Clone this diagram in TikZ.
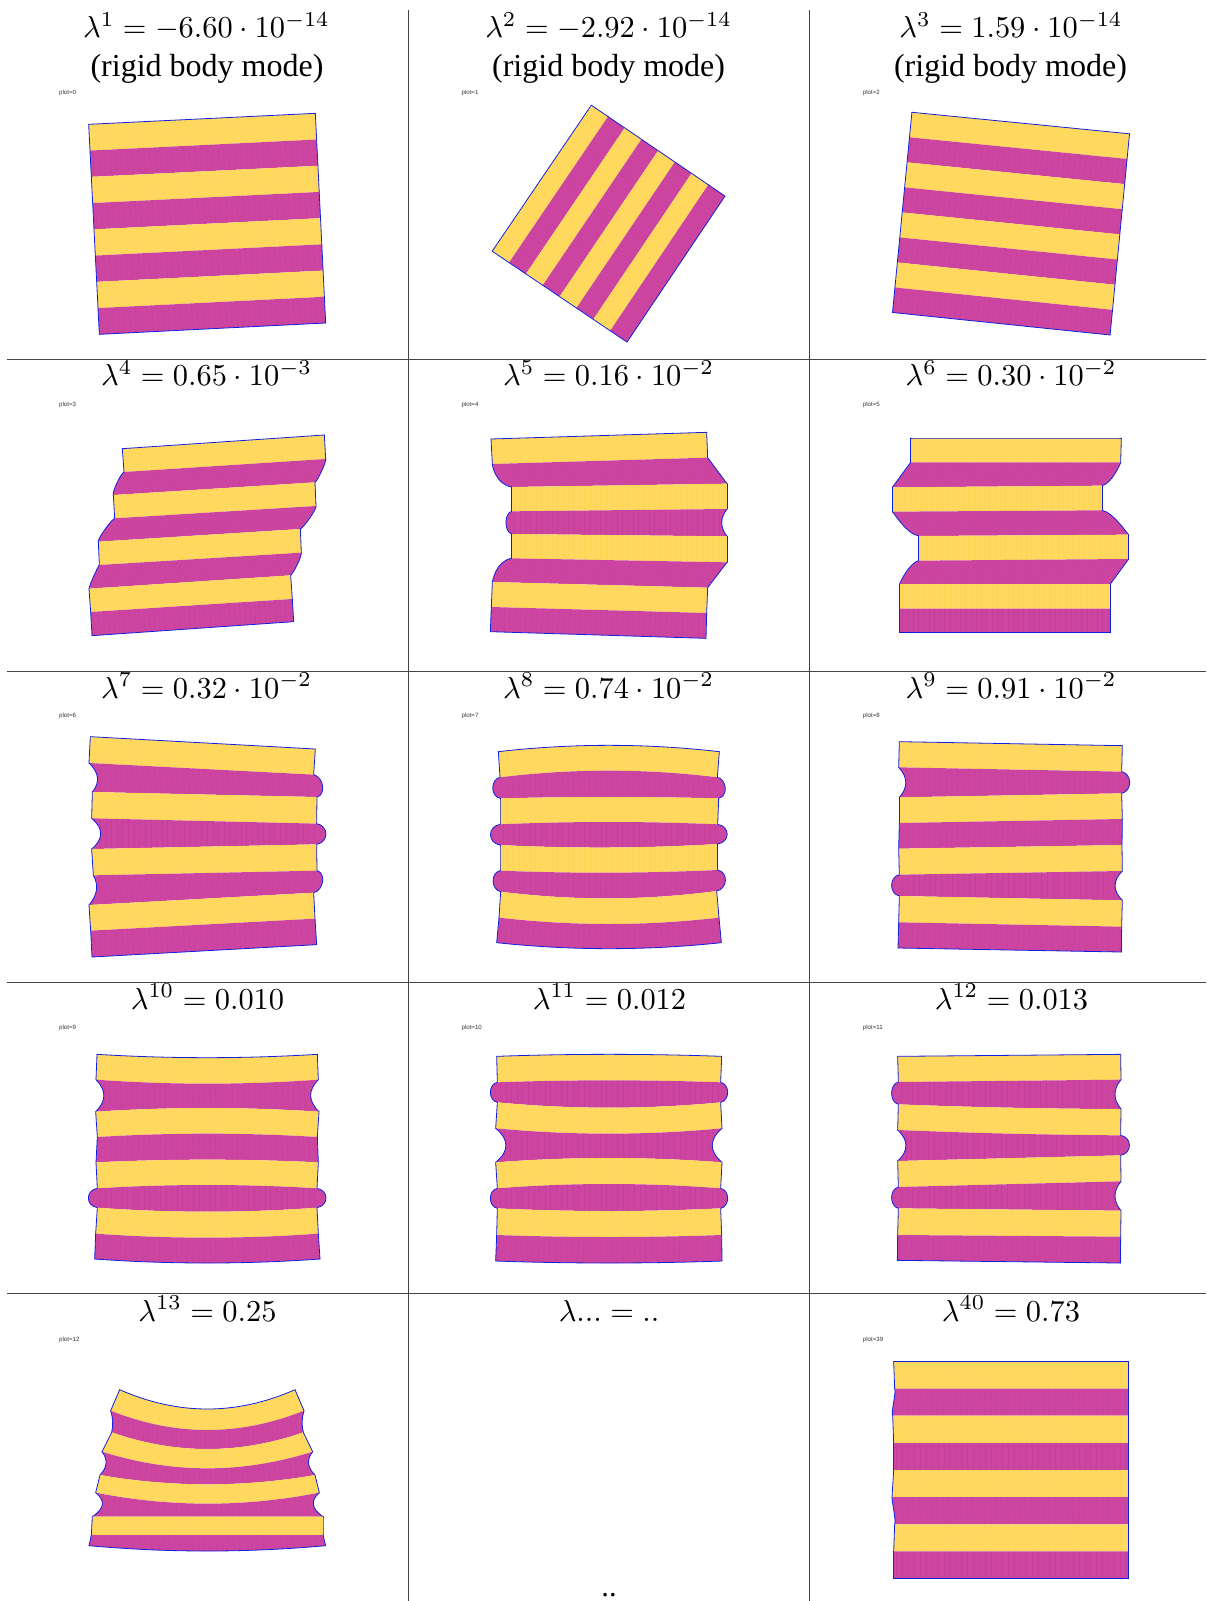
\documentclass[tikz,border=0pt]{standalone}
\usepackage{fontspec}
\setmainfont{Liberation Serif}
\newfontfamily\plotfont{Liberation Sans}
\definecolor{stripeY}{HTML}{FFD95F}
\definecolor{stripeP}{HTML}{CC45A0}
\definecolor{meshY}{HTML}{FFC81E}
\definecolor{meshP}{HTML}{B8108A}
\definecolor{edgeB}{HTML}{1020E0}
\definecolor{gridG}{HTML}{444444}
\tikzset{
  titletext/.style={anchor=base,scale=2.28,inner sep=0pt,outer sep=0pt},
  subtext/.style={anchor=base,scale=2.4,inner sep=0pt,outer sep=0pt},
  plottext/.style={anchor=base west,inner sep=0pt,outer sep=0pt,text=black!80,font=\plotfont\fontsize{4.6}{5}\selectfont},
  gridline/.style={draw=gridG,line width=.75pt},
  outline/.style={draw=edgeB,line width=.6pt,line join=round,line cap=round},
  meshline/.style={line width=.2pt,opacity=.16},
}
\newcommand{\meshsteps}{0.0125,0.0375,...,1}
\newcommand{\panelrows}[3]{%
\begin{scope}[shift={(#1,#2)},x=.25pt,y=-.25pt]
\foreach \xa/\ya/\xb/\yb/\sg/\pa/\qa/\pb/\qb [count=\idx,
  remember=\xa as \Xa (initially 0),remember=\ya as \Ya (initially 0),
  remember=\xb as \Xb (initially 0),remember=\yb as \Yb (initially 0),
  remember=\sg as \Sg (initially 0),
  remember=\pa as \Pa (initially 0),remember=\qa as \Qa (initially 0),
  remember=\pb as \Pb (initially 0),remember=\qb as \Qb (initially 0)] in {#3}{%
  \ifnum\idx>1
    \pgfmathsetmacro\fl{(\Pa>0 && \Qa>0) ? .33 : .1}%
    \pgfmathsetmacro\fr{(\Pb<0 && \Qb<0) ? .33 : .1}%
    \pgfmathsetmacro\tax{\Xa+(\Xb-\Xa)/3}\pgfmathsetmacro\tay{\Ya+(\Yb-\Ya)/3+1.333*\Sg}%
    \pgfmathsetmacro\tbx{\Xa+2*(\Xb-\Xa)/3}\pgfmathsetmacro\tby{\Ya+2*(\Yb-\Ya)/3+1.333*\Sg}%
    \pgfmathsetmacro\bax{\xa+(\xb-\xa)/3}\pgfmathsetmacro\bay{\ya+(\yb-\ya)/3+1.333*\sg}%
    \pgfmathsetmacro\bbx{\xa+2*(\xb-\xa)/3}\pgfmathsetmacro\bby{\ya+2*(\yb-\ya)/3+1.333*\sg}%
    \pgfmathsetmacro\lax{\Xa+\fl*(\xa-\Xa)+\Pa}\pgfmathsetmacro\lay{\Ya+\fl*(\ya-\Ya)}%
    \pgfmathsetmacro\lbx{\xa-\fl*(\xa-\Xa)+\Qa}\pgfmathsetmacro\lby{\ya-\fl*(\ya-\Ya)}%
    \pgfmathsetmacro\rax{\Xb+\fr*(\xb-\Xb)+\Pb}\pgfmathsetmacro\ray{\Yb+\fr*(\yb-\Yb)}%
    \pgfmathsetmacro\rbx{\xb-\fr*(\xb-\Xb)+\Qb}\pgfmathsetmacro\rby{\yb-\fr*(\yb-\Yb)}%
    \def\stripepath{(\Xa,\Ya) .. controls (\tax,\tay) and (\tbx,\tby) .. (\Xb,\Yb)
      .. controls (\rax,\ray) and (\rbx,\rby) .. (\xb,\yb)
      .. controls (\bbx,\bby) and (\bax,\bay) .. (\xa,\ya)
      .. controls (\lbx,\lby) and (\lax,\lay) .. cycle}%
    \ifodd\idx\def\fillc{stripeP}\def\meshc{meshP}\else\def\fillc{stripeY}\def\meshc{meshY}\fi
    \fill[\fillc] \stripepath;
    \begin{scope}
      \clip \stripepath;
      \foreach \tt in \meshsteps {%
        \pgfmathsetmacro\ux{\Xa+\tt*(\Xb-\Xa)}\pgfmathsetmacro\uy{\Ya+\tt*(\Yb-\Ya)}%
        \pgfmathsetmacro\vx{\xa+\tt*(\xb-\xa)}\pgfmathsetmacro\vy{\ya+\tt*(\yb-\ya)}%
        \draw[meshline,draw=\meshc] ({\ux-(\vx-\ux)},{\uy-(\vy-\uy)}) -- ({\vx+(\vx-\ux)},{\vy+(\vy-\uy)});
      }
    \end{scope}
    \draw[outline] (\Xa,\Ya) .. controls (\lax,\lay) and (\lbx,\lby) .. (\xa,\ya);
    \draw[outline] (\Xb,\Yb) .. controls (\rax,\ray) and (\rbx,\rby) .. (\xb,\yb);
    \ifnum\idx=2 \draw[outline] (\Xa,\Ya) .. controls (\tax,\tay) and (\tbx,\tby) .. (\Xb,\Yb);\fi
    \ifnum\idx=9 \draw[outline] (\xa,\ya) .. controls (\bax,\bay) and (\bbx,\bby) .. (\xb,\yb);\fi
  \fi
}
\end{scope}}
% rigid panel: corners of boundary 0 (a,b) and boundary 8 (c,d), in 3x pixels
\newcommand{\rigidpanel}[8]{%
  \gdef\rowlist{}%
  \foreach \k in {0,...,8}{%
    \pgfmathsetmacro\ra{#1+\k/8*(#5-#1)}\pgfmathsetmacro\rb{#2+\k/8*(#6-#2)}%
    \pgfmathsetmacro\rc{#3+\k/8*(#7-#3)}\pgfmathsetmacro\rd{#4+\k/8*(#8-#4)}%
    \ifnum\k=0 \xdef\rowlist{\ra/\rb/\rc/\rd/0/0/0/0/0}\else
    \xdef\rowlist{\rowlist,\ra/\rb/\rc/\rd/0/0/0/0/0}\fi}%
  \edef\tmpcall{\noexpand\panelrows{0}{0}{\rowlist}}\tmpcall}
\newcommand{\ttl}[4]{\node[titletext] (#1) at (#2,#3) {$#4$};}
\newcommand{\plt}[4]{\node[plottext] (#1) at (#2,#3) {#4};}
\begin{document}
\begin{tikzpicture}[x=.75pt,y=-.75pt]
\useasboundingbox (0,0) rectangle (1206,1601);
% grid
\draw[gridline] (408,10) -- (408,1601);
\draw[gridline] (809.6,10) -- (809.6,1601);
\foreach \yy in {359.4,671,982.4,1293.8} \draw[gridline] (7,\yy) -- (1206,\yy);
% titles
\ttl{t1}{206.5}{38}{\lambda^{1} = -6.60\cdot 10^{-14}}
\ttl{t2}{608.6}{38}{\lambda^{2} = -2.92\cdot 10^{-14}}
\ttl{t3}{1011}{38}{\lambda^{3} = 1.59\cdot 10^{-14}}
\node[subtext] (s1) at (207,77) {(rigid body mode)};
\node[subtext] (s2) at (608.6,77) {(rigid body mode)};
\node[subtext] (s3) at (1010.5,77) {(rigid body mode)};
\ttl{t4}{206.5}{385.5}{\lambda^{4} = 0.65\cdot 10^{-3}}
\ttl{t5}{608.6}{385.5}{\lambda^{5} = 0.16\cdot 10^{-2}}
\ttl{t6}{1011}{385.5}{\lambda^{6} = 0.30\cdot 10^{-2}}
\ttl{t7}{206.5}{698}{\lambda^{7} = 0.32\cdot 10^{-2}}
\ttl{t8}{608.6}{698}{\lambda^{8} = 0.74\cdot 10^{-2}}
\ttl{t9}{1011}{698}{\lambda^{9} = 0.91\cdot 10^{-2}}
\ttl{t10}{207.5}{1009}{\lambda^{10} = 0.010}
\ttl{t11}{609.5}{1009}{\lambda^{11} = 0.012}
\ttl{t12}{1011.5}{1009}{\lambda^{12} = 0.013}
\ttl{t13}{207.5}{1321}{\lambda^{13} = 0.25}
\ttl{t14}{609}{1321}{\lambda... = ..}
\ttl{t15}{1011}{1321}{\lambda^{40} = 0.73}
\node[titletext] (dots) at (609,1596) {..};
% plot labels
\plt{p0}{59.2}{94.5}{plot=0}
\plt{p1}{461.6}{94.5}{plot=1}
\plt{p2}{862.9}{94.5}{plot=2}
\plt{p3}{59.2}{406}{plot=3}
\plt{p4}{461.6}{406}{plot=4}
\plt{p5}{862.9}{406}{plot=5}
\plt{p6}{59.2}{717.5}{plot=6}
\plt{p7}{461.6}{717.5}{plot=7}
\plt{p8}{862.9}{717.5}{plot=8}
\plt{p9}{59.2}{1029}{plot=9}
\plt{p10}{461.6}{1029}{plot=10}
\plt{p11}{862.9}{1029}{plot=11}
\plt{p12}{59.2}{1341}{plot=12}
\plt{p39}{862.9}{1341}{plot=39}
% rigid panels
\rigidpanel{266}{373}{946}{340}{298}{1003}{977}{969}
\rigidpanel{1476.6}{753.6}{1773.9}{315.6}{1881}{1026.3}{2175}{588.3}
\rigidpanel{2735.7}{336.9}{3388.5}{401.4}{2677.5}{937.5}{3330.3}{1005}
% panel 4
\panelrows{60}{400}{187/146/793/105/0/0/0/0/0,
192/216/797/177/0/-8/-8/6/6,
160/285/765/247/0/0/0/0/0,
164/355/768/318/0/-8/-8/8/8,
115/425/721/387/0/0/0/0/0,
118/495/724/458/0/-3/-3/6/6,
87/566/692/526/0/0/0/0/0,
92/636/697/597/0/0/0/0/0,
96/707/701/665/0/0/0/0/0}
% panel 5
\panelrows{470}{420}{63/57/710/37/0/0/0/0/0,
67/132/713/113/0/-6/-40/0/0,
125/201/771/191/0/0/0/0/0,
125/274/771/267/0/-23/-23/-21/-21,
125/342/771/349/0/0/0/0/0,
125/415/771/427/0/-40/-4/0/0,
67/486/713/503/0/0/0/0/0,
64/561/710/579/0/0/0/0/0,
61/635/708/655/0/0/0/0/0}
% panel 6
\panelrows{870}{420}{122/54/754/54/0/0/0/0/0,
122/127/752/127/0/0/0/4/22,
67/202/697/197/0/0/0/0/0,
67/275/697/271/0/0/-30/25/0,
146/348/776/344/0/0/0/0/0,
146/422/776/417/0/-22/-4/0/0,
89/492/721/492/0/0/0/0/0,
89/566/721/566/0/0/0/0/0,
89/638/721/638/0/0/0/0/0}
% panel 7
\panelrows{70}{725}{61/35/736/72/0/0/0/0/0,
57/114/731/149/0/27/27/29/29,
67/201/741/216/0/0/0/0/0,
65/280/740/296/0/36/36/37/37,
65/372/740/358/0/0/0/0/0,
70/451/741/437/0/21/21/29/29,
57/540/731/503/0/0/0/0/0,
62/617/735/581/0/0/0/0/0,
66/696/740/659/0/0/0/0/0}
% panel 8
\panelrows{475}{735}{70/50/733/50/-19/0/0/0/0,
75/127/727/127/-20/-29/-29/29/29,
75/190/731/190/-4/0/0/0/0,
75/268/728/268/-7/-38/-38/38/38,
75/330/728/327/9/0/0/0/0,
75/407/728/405/7/-29/-29/33/33,
77/470/725/468/21/0/0/0/0,
72/548/732/548/19/0/0/0/0,
65/623/739/623/18/0/0/0/0}
% panel 9
\panelrows{875}{730}{73/35/742/47/0/0/0/0/0,
71/112/740/125/0/27/27/32/32,
73/202/740/190/0/0/0/0/0,
73/279/742/267/0/0/0/0/0,
71/356/741/345/0/0/0/0/0,
73/434/742/423/0/-31/-31/-29/-29,
73/498/742/511/0/0/0/0/0,
71/577/740/590/0/0/0/0/0,
69/654/739/666/0/0/0/0/0}
% panel 10
\panelrows{75}{1045}{66/28/727/28/10/0/0/0/0,
63/104/730/104/12/32/32/-32/-32,
62/200/732/200/-11/0/0/0/0,
67/276/727/276/-10/0/0/0/0,
63/352/730/352/-8/0/0/0/0,
67/430/726/430/-10/-36/-36/36/36,
67/488/726/488/12/0/0/0/0,
62/566/730/566/12/0/0/0/0,
59/642/735/642/12/0/0/0/0}
% panel 11
\panelrows{475}{1045}{65/34/740/34/-6/0/0/0/0,
67/112/737/112/-6/-28/-28/28/28,
67/172/737/172/16/0/0/0/0,
62/250/741/250/16/41/41/-39/-39,
62/352/741/352/-13/0/0/0/0,
67/430/737/430/-13/-28/-28/28/28,
67/490/737/490/8/0/0/0/0,
65/570/740/570/6/0/0/0/0,
62/648/741/648/6/0/0/0/0}
% panel 12
\panelrows{875}{1045}{68/34/737/28/0/0/0/0/0,
70/111/738/104/0/-27/-27/-24/-24,
70/178/738/192/3/0/0/0/0,
68/255/737/271/3/33/33/35/35,
68/348/737/331/0/0/0/0/0,
70/426/738/409/0/-27/-27/-24/-24,
70/490/738/497/0/0/0/0/0,
68/570/737/575/0/0/0/0/0,
67/646/736/654/0/0/0/0/0}
% panel 13
\panelrows{75}{1335}{134/164/660/164/58/0/0/0/0,
107/227/687/227/58/6/6/-6/-6,
110/292/685/292/50/0/0/0/0,
81/350/713/350/50/20/20/-21/-21,
75/420/720/420/28/0/0/0/0,
62/473/733/473/33/33/33/-31/-31,
52/545/744/545/0/0/0/0/0,
49/600/744/600/0/0/0/0/0,
42/632/752/632/16/0/0/0/0}
% panel 40
\panelrows{870}{1350}{71/34/776/34/0/0/0/0/0,
74/116/776/116/0/6/-6/0/0,
68/197/776/197/0/0/0/0/0,
71/279/776/279/0/0/0/0/0,
71/360/776/360/0/0/0/0/0,
66/441/776/441/0/-2/6/0/0,
74/523/776/523/0/0/0/0/0,
71/604/776/604/0/0/0/0/0,
71/686/776/686/0/0/0/0/0}
\end{tikzpicture}
\end{document}
